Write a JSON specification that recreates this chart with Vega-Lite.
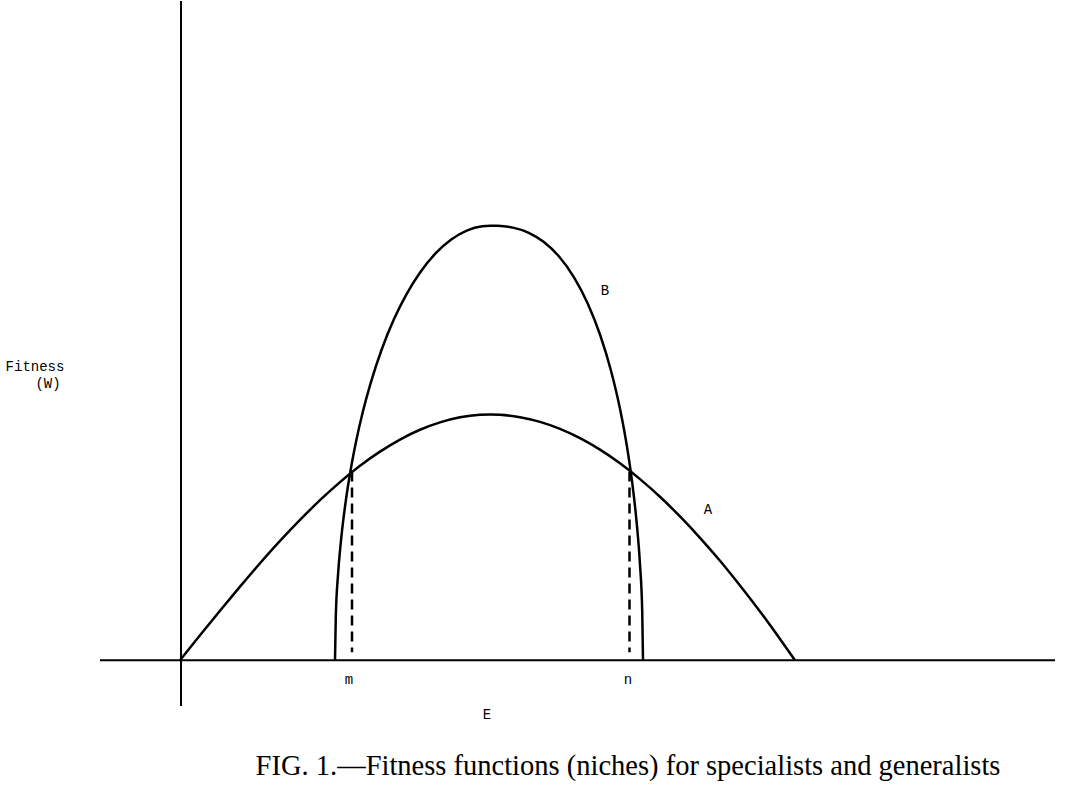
{
  "$schema": "https://vega.github.io/schema/vega-lite/v6.json",
  "width": 1065,
  "height": 803,
  "autosize": {"type": "fit", "contains": "padding"},
  "padding": 0,
  "background": "white",
  "config": {"view": {"stroke": null}},
  "datasets": {
    "curves": [
      {"curve": "A", "E": 0, "W": 0},
      {"curve": "A", "E": 2, "W": 2.49},
      {"curve": "A", "E": 4, "W": 4.95},
      {"curve": "A", "E": 6, "W": 7.36},
      {"curve": "A", "E": 8, "W": 9.70},
      {"curve": "A", "E": 10, "W": 11.94},
      {"curve": "A", "E": 12, "W": 14.05},
      {"curve": "A", "E": 14, "W": 16.02},
      {"curve": "A", "E": 16, "W": 17.83},
      {"curve": "A", "E": 18, "W": 19.46},
      {"curve": "A", "E": 20, "W": 20.88},
      {"curve": "A", "E": 22, "W": 22.09},
      {"curve": "A", "E": 24, "W": 23.07},
      {"curve": "A", "E": 26, "W": 23.81},
      {"curve": "A", "E": 28, "W": 24.32},
      {"curve": "A", "E": 30, "W": 24.57},
      {"curve": "A", "E": 31, "W": 24.6},
      {"curve": "A", "E": 32, "W": 24.57},
      {"curve": "A", "E": 34, "W": 24.33},
      {"curve": "A", "E": 36, "W": 23.86},
      {"curve": "A", "E": 38, "W": 23.16},
      {"curve": "A", "E": 40, "W": 22.23},
      {"curve": "A", "E": 42, "W": 21.08},
      {"curve": "A", "E": 44, "W": 19.71},
      {"curve": "A", "E": 46, "W": 18.13},
      {"curve": "A", "E": 48, "W": 16.36},
      {"curve": "A", "E": 50, "W": 14.39},
      {"curve": "A", "E": 52, "W": 12.25},
      {"curve": "A", "E": 54, "W": 9.95},
      {"curve": "A", "E": 56, "W": 7.47},
      {"curve": "A", "E": 58, "W": 4.87},
      {"curve": "A", "E": 60, "W": 2.13},
      {"curve": "A", "E": 61.5, "W": 0},
      {"curve": "B", "E": 15.5, "W": 0},
      {"curve": "B", "E": 15.58, "W": 4.35},
      {"curve": "B", "E": 15.81, "W": 8.66},
      {"curve": "B", "E": 16.12, "W": 12.18},
      {"curve": "B", "E": 16.585, "W": 15.99},
      {"curve": "B", "E": 17.05, "W": 18.96},
      {"curve": "B", "E": 17.67, "W": 22.20},
      {"curve": "B", "E": 18.29, "W": 24.90},
      {"curve": "B", "E": 19.065, "W": 27.75},
      {"curve": "B", "E": 20.15, "W": 31.06},
      {"curve": "B", "E": 21.39, "W": 34.13},
      {"curve": "B", "E": 22.63, "W": 36.61},
      {"curve": "B", "E": 24.025, "W": 38.85},
      {"curve": "B", "E": 25.575, "W": 40.75},
      {"curve": "B", "E": 27.125, "W": 42.12},
      {"curve": "B", "E": 28.675, "W": 43.01},
      {"curve": "B", "E": 30.225, "W": 43.45},
      {"curve": "B", "E": 31, "W": 43.5},
      {"curve": "B", "E": 31.765, "W": 43.49},
      {"curve": "B", "E": 33.295, "W": 43.31},
      {"curve": "B", "E": 34.825, "W": 42.82},
      {"curve": "B", "E": 36.355, "W": 41.89},
      {"curve": "B", "E": 37.885, "W": 40.44},
      {"curve": "B", "E": 39.415, "W": 38.31},
      {"curve": "B", "E": 40.792, "W": 35.67},
      {"curve": "B", "E": 42.016, "W": 32.56},
      {"curve": "B", "E": 43.087, "W": 29.03},
      {"curve": "B", "E": 44.005, "W": 25.14},
      {"curve": "B", "E": 44.77, "W": 20.93},
      {"curve": "B", "E": 45.229, "W": 17.72},
      {"curve": "B", "E": 45.688, "W": 13.55},
      {"curve": "B", "E": 45.994, "W": 9.66},
      {"curve": "B", "E": 46.2235, "W": 4.85},
      {"curve": "B", "E": 46.3, "W": 0}
    ],
    "axes": [
      {"E": 0.1, "E2": 0.1, "W": 66, "W2": -4.6},
      {"E": -8, "E2": 87.5, "W": 0, "W2": 0}
    ],
    "dashes": [
      {"E": 17.2, "W": 18.9, "W2": 0.8},
      {"E": 44.95, "W": 18.9, "W2": 0.8}
    ],
    "labels": [
      {"kind": "mono", "text": "Fitness", "E": -14.5, "W": 29.4},
      {"kind": "mono", "text": "(W)", "E": -13.2, "W": 27.7},
      {"kind": "mono", "text": "B", "E": 42.5, "W": 37.0},
      {"kind": "mono", "text": "A", "E": 52.8, "W": 15.0},
      {"kind": "mono", "text": "m", "E": 16.9, "W": -2.0},
      {"kind": "mono", "text": "n", "E": 44.8, "W": -2.0},
      {"kind": "mono", "text": "E", "E": 30.7, "W": -5.5},
      {"kind": "caption", "text": "FIG. 1.—Fitness functions (niches) for specialists and generalists", "E": 44.8, "W": -10.6}
    ]
  },
  "encoding": {
    "x": {"field": "E", "type": "quantitative", "scale": {"domain": [-18, 88.5], "nice": false, "zero": false}, "axis": null},
    "y": {"field": "W", "type": "quantitative", "scale": {"domain": [-14.3, 66], "nice": false, "zero": false}, "axis": null}
  },
  "layer": [
    {
      "data": {"name": "axes"},
      "mark": {"type": "rule", "color": "black", "strokeWidth": 2},
      "encoding": {"x2": {"field": "E2"}, "y2": {"field": "W2"}}
    },
    {
      "data": {"name": "dashes"},
      "mark": {"type": "rule", "color": "black", "strokeWidth": 2.5, "strokeDash": [10, 6]},
      "encoding": {"y2": {"field": "W2"}}
    },
    {
      "data": {"name": "curves"},
      "mark": {"type": "line", "color": "black", "strokeWidth": 2.5, "interpolate": "monotone"},
      "encoding": {"detail": {"field": "curve"}}
    },
    {
      "data": {"name": "labels"},
      "transform": [{"filter": "datum.kind === 'mono'"}],
      "mark": {"type": "text", "font": "Liberation Mono", "fontSize": 14, "align": "center", "baseline": "middle", "color": "black"},
      "encoding": {"text": {"field": "text"}}
    },
    {
      "data": {"name": "labels"},
      "transform": [{"filter": "datum.kind === 'caption'"}],
      "mark": {"type": "text", "font": "Liberation Serif", "fontSize": 28.5, "align": "center", "baseline": "middle", "color": "black"},
      "encoding": {"text": {"field": "text"}}
    }
  ]
}
